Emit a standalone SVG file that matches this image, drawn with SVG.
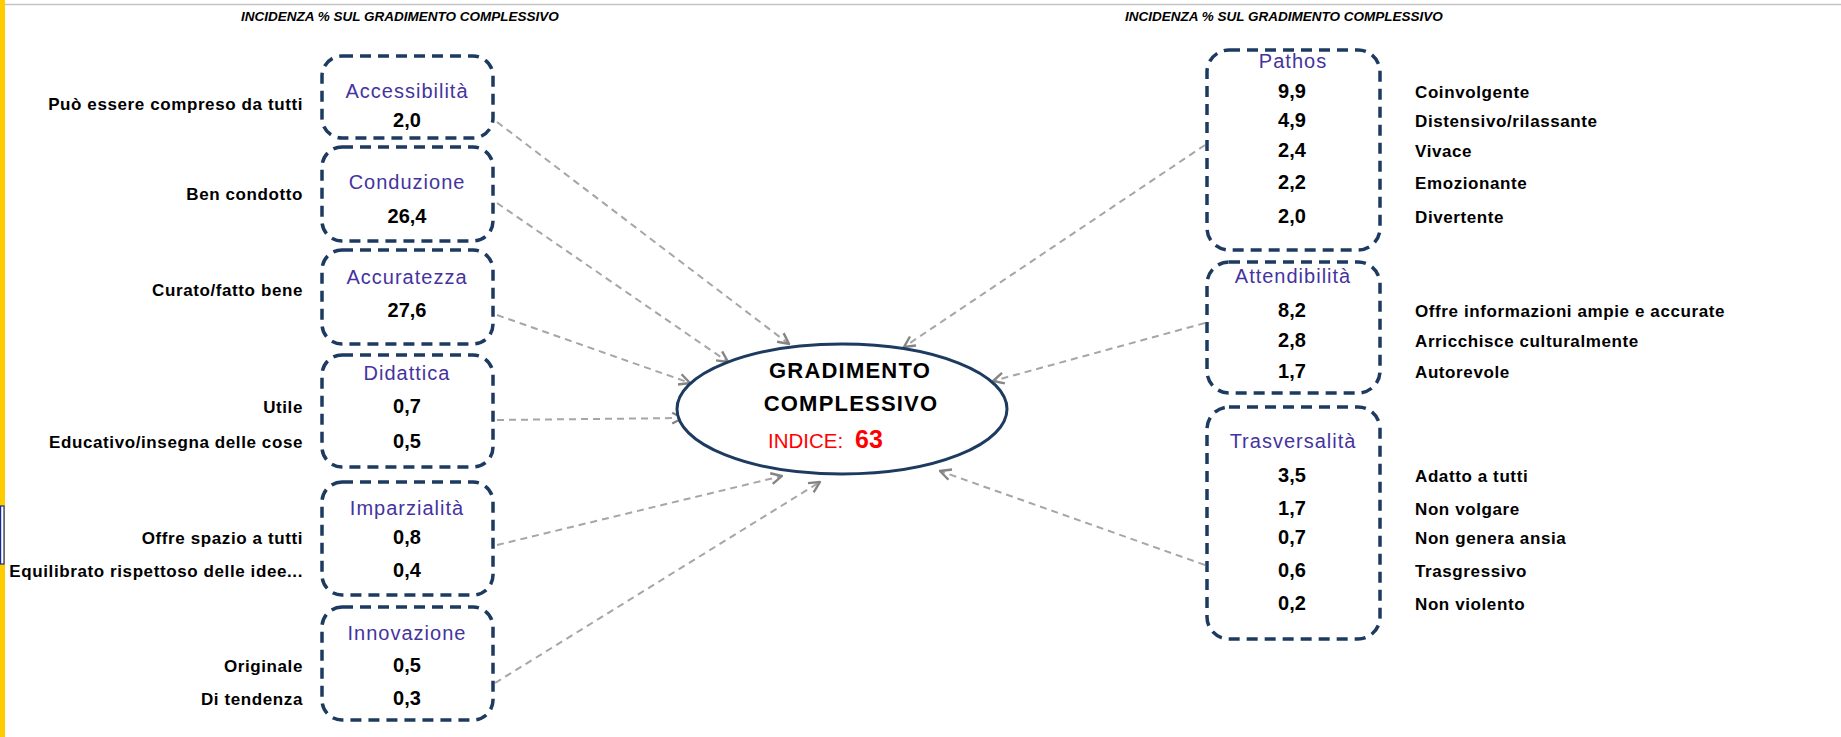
<svg xmlns="http://www.w3.org/2000/svg" width="1841" height="737" viewBox="0 0 1841 737">
<style>
.box{fill:none;stroke:#1d3a60;stroke-width:3.5;stroke-dasharray:11 7;}
.title{font-family:"Liberation Sans",Arial,sans-serif;font-size:20px;fill:#4433a0;text-anchor:middle;letter-spacing:1px;}
.val{font-family:"Liberation Sans",Arial,sans-serif;font-size:20px;font-weight:bold;fill:#000;text-anchor:middle;}
.lab{font-family:"Liberation Sans",Arial,sans-serif;font-size:17px;font-weight:bold;fill:#000;letter-spacing:0.6px;}
.labL{text-anchor:end;}
.hdr{font-family:"Liberation Sans",Arial,sans-serif;font-size:13.5px;font-weight:bold;font-style:italic;fill:#000;}
.conn{fill:none;stroke:#a6a6a6;stroke-width:2;stroke-dasharray:7 5;marker-end:url(#ah);}
.big{font-family:"Liberation Sans",Arial,sans-serif;font-size:22px;font-weight:bold;fill:#000;text-anchor:middle;letter-spacing:1.2px;}
</style>
<defs>
<marker id="ah" viewBox="0 0 12 12" refX="11" refY="6" markerWidth="13" markerHeight="13" markerUnits="userSpaceOnUse" orient="auto">
<path d="M1,1 L11,6 L1,11" fill="none" stroke="#858585" stroke-width="2.2"/>
</marker>
</defs>
<rect x="0" y="0" width="1841" height="737" fill="#fff"/>
<rect x="0" y="0" width="5" height="737" fill="#ffcc00"/>
<rect x="0.6" y="506" width="3.4" height="58" fill="#fff" stroke="#1a2a8a" stroke-width="1.2"/>
<line x1="5" y1="4.5" x2="1841" y2="4.5" stroke="#c4c4c4" stroke-width="1.5"/>

<text class="hdr" x="241" y="21">INCIDENZA % SUL GRADIMENTO COMPLESSIVO</text>
<text class="hdr" x="1125" y="21">INCIDENZA % SUL GRADIMENTO COMPLESSIVO</text>

<g id="connectors">
<path class="conn" d="M497,122 L789,344"/>
<path class="conn" d="M497,203 L728,362"/>
<path class="conn" d="M497,315 L690,383"/>
<path class="conn" d="M497,420 L683,418"/>
<path class="conn" d="M497,545 L782,476"/>
<path class="conn" d="M495,683 L820,482"/>
<path class="conn" d="M1205,145 L904,347"/>
<path class="conn" d="M1205,323 L993,381"/>
<path class="conn" d="M1205,565 L940,471"/>
</g>

<g id="gradimento">
<ellipse cx="842" cy="409" rx="165" ry="65" fill="#fff" stroke="#1d3a60" stroke-width="3"/>
<text class="big" x="850" y="378">GRADIMENTO</text>
<text class="big" x="851" y="411">COMPLESSIVO</text>
<text x="768" y="448" font-family="'Liberation Sans',Arial,sans-serif" font-size="20.5" fill="#ff0000">INDICE:</text>
<text x="855" y="448" font-family="'Liberation Sans',Arial,sans-serif" font-size="25" font-weight="bold" fill="#ff0000">63</text>
</g>

<g id="accessibilita">
<rect class="box" x="322" y="56" width="171" height="82" rx="20"/>
<text class="title" x="407" y="98">Accessibilità</text>
<text class="val" x="407" y="127">2,0</text>
<text class="lab labL" x="303" y="110">Può essere compreso da tutti</text>
</g>

<g id="conduzione">
<rect class="box" x="322" y="147" width="171" height="94" rx="20"/>
<text class="title" x="407" y="189">Conduzione</text>
<text class="val" x="407" y="223">26,4</text>
<text class="lab labL" x="303" y="200">Ben condotto</text>
</g>

<g id="accuratezza">
<rect class="box" x="322" y="250" width="171" height="94" rx="20"/>
<text class="title" x="407" y="284">Accuratezza</text>
<text class="val" x="407" y="317">27,6</text>
<text class="lab labL" x="303" y="296">Curato/fatto bene</text>
</g>

<g id="didattica">
<rect class="box" x="322" y="355" width="171" height="112" rx="20"/>
<text class="title" x="407" y="380">Didattica</text>
<text class="val" x="407" y="413">0,7</text>
<text class="val" x="407" y="448">0,5</text>
<text class="lab labL" x="303" y="413">Utile</text>
<text class="lab labL" x="303" y="448">Educativo/insegna delle cose</text>
</g>

<g id="imparzialita">
<rect class="box" x="322" y="482" width="171" height="113" rx="20"/>
<text class="title" x="407" y="515">Imparzialità</text>
<text class="val" x="407" y="544">0,8</text>
<text class="val" x="407" y="577">0,4</text>
<text class="lab labL" x="303" y="544">Offre spazio a tutti</text>
<text class="lab labL" x="303" y="577">Equilibrato rispettoso delle idee...</text>
</g>

<g id="innovazione">
<rect class="box" x="322" y="607" width="171" height="113" rx="20"/>
<text class="title" x="407" y="640">Innovazione</text>
<text class="val" x="407" y="672">0,5</text>
<text class="val" x="407" y="705">0,3</text>
<text class="lab labL" x="303" y="672">Originale</text>
<text class="lab labL" x="303" y="705">Di tendenza</text>
</g>

<g id="pathos">
<rect class="box" x="1207" y="50" width="173" height="200" rx="22"/>
<text class="title" x="1293" y="68">Pathos</text>
<text class="val" x="1292" y="98">9,9</text>
<text class="val" x="1292" y="127">4,9</text>
<text class="val" x="1292" y="157">2,4</text>
<text class="val" x="1292" y="189">2,2</text>
<text class="val" x="1292" y="223">2,0</text>
<text class="lab" x="1415" y="98">Coinvolgente</text>
<text class="lab" x="1415" y="127">Distensivo/rilassante</text>
<text class="lab" x="1415" y="157">Vivace</text>
<text class="lab" x="1415" y="189">Emozionante</text>
<text class="lab" x="1415" y="223">Divertente</text>
</g>

<g id="attendibilita">
<rect class="box" x="1207" y="262" width="173" height="131" rx="22"/>
<text class="title" x="1293" y="283">Attendibilità</text>
<text class="val" x="1292" y="317">8,2</text>
<text class="val" x="1292" y="347">2,8</text>
<text class="val" x="1292" y="378">1,7</text>
<text class="lab" x="1415" y="317">Offre informazioni ampie e accurate</text>
<text class="lab" x="1415" y="347">Arricchisce culturalmente</text>
<text class="lab" x="1415" y="378">Autorevole</text>
</g>

<g id="trasversalita">
<rect class="box" x="1207" y="407" width="173" height="232" rx="22"/>
<text class="title" x="1293" y="448">Trasversalità</text>
<text class="val" x="1292" y="482">3,5</text>
<text class="val" x="1292" y="515">1,7</text>
<text class="val" x="1292" y="544">0,7</text>
<text class="val" x="1292" y="577">0,6</text>
<text class="val" x="1292" y="610">0,2</text>
<text class="lab" x="1415" y="482">Adatto a tutti</text>
<text class="lab" x="1415" y="515">Non volgare</text>
<text class="lab" x="1415" y="544">Non genera ansia</text>
<text class="lab" x="1415" y="577">Trasgressivo</text>
<text class="lab" x="1415" y="610">Non violento</text>
</g>
</svg>
